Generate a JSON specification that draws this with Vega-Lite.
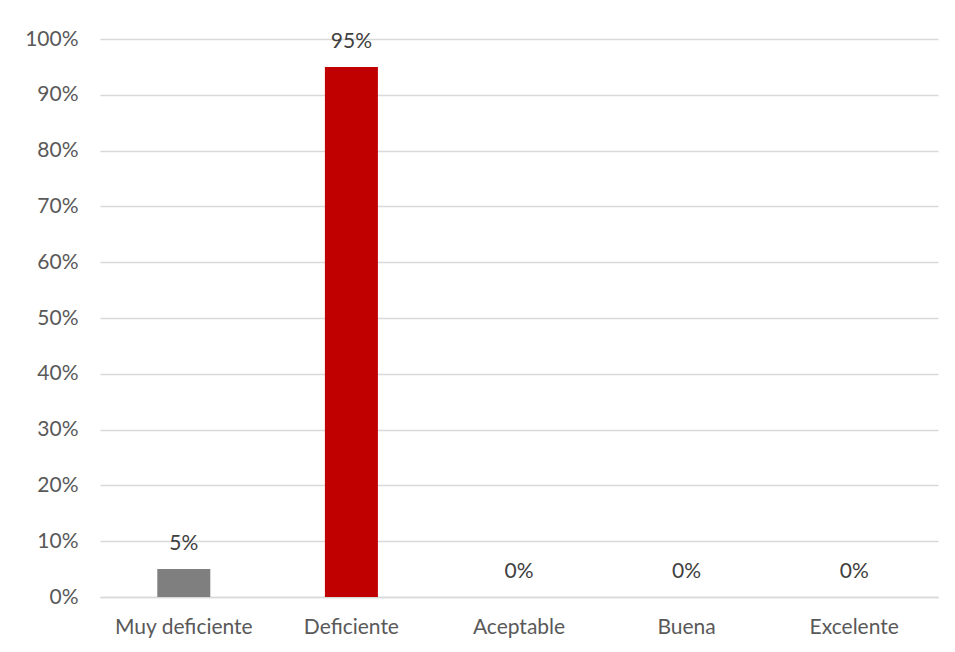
{
  "$schema": "https://vega.github.io/schema/vega-lite/v6.json",
  "width": 838,
  "height": 558,
  "autosize": {"type": "none"},
  "padding": {"left": 100, "top": 39, "right": 17, "bottom": 55},
  "background": "white",
  "config": {
    "view": {"stroke": null},
    "font": "Lato",
    "axis": {"labelFont": "Lato", "labelColor": "#595959", "labelFontSize": 21}
  },
  "data": {
    "values": [
      {"categoria": "Muy deficiente", "valor": 0.05, "color": "#7f7f7f"},
      {"categoria": "Deficiente", "valor": 0.95, "color": "#c00000"},
      {"categoria": "Aceptable", "valor": 0, "color": "#7f7f7f"},
      {"categoria": "Buena", "valor": 0, "color": "#7f7f7f"},
      {"categoria": "Excelente", "valor": 0, "color": "#7f7f7f"}
    ]
  },
  "encoding": {
    "x": {
      "field": "categoria",
      "type": "nominal",
      "sort": null,
      "scale": {"paddingInner": 0, "paddingOuter": 0},
      "axis": {"title": null, "labelAngle": 0, "ticks": false, "domain": true, "domainColor": "#d9d9d9", "domainWidth": 1.5, "labelPadding": 19, "grid": false}
    },
    "y": {
      "field": "valor",
      "type": "quantitative",
      "scale": {"domain": [0, 1], "nice": false},
      "axis": {"title": null, "format": ".0%", "values": [0, 0.1, 0.2, 0.3, 0.4, 0.5, 0.6, 0.7, 0.8, 0.9, 1], "ticks": false, "domain": false, "gridColor": "#d9d9d9", "gridWidth": 1.5, "labelPadding": 22}
    }
  },
  "layer": [
    {
      "mark": {"type": "bar", "size": 53},
      "encoding": {"color": {"field": "color", "type": "nominal", "scale": null}}
    },
    {
      "mark": {"type": "text", "dy": -25, "baseline": "middle", "fontSize": 21, "color": "#404040", "font": "Lato"},
      "encoding": {"text": {"field": "valor", "type": "quantitative", "format": ".0%"}}
    }
  ]
}
